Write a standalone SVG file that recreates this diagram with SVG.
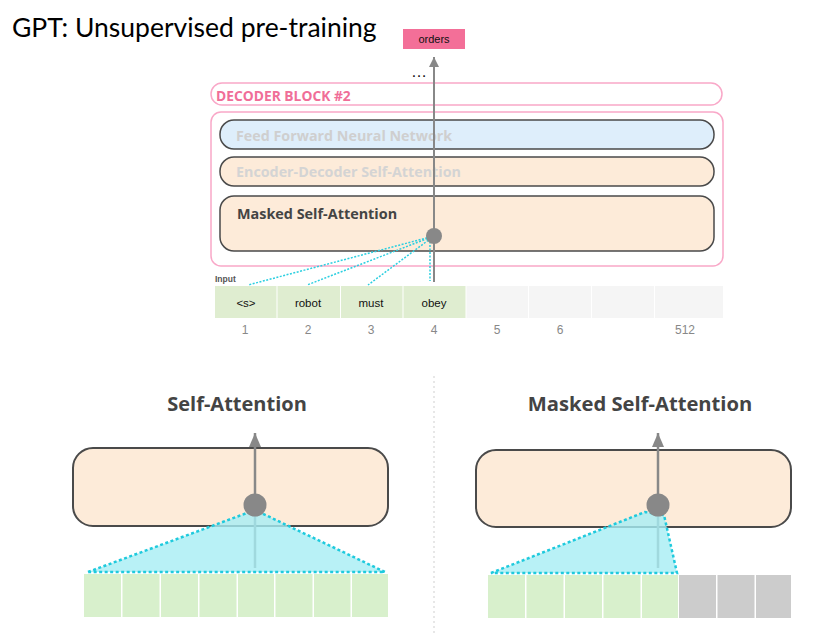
<svg xmlns="http://www.w3.org/2000/svg" width="837" height="634" viewBox="0 0 837 634">
<defs>
<style>
.lbl{font-family:"Open Sans","DejaVu Sans",sans-serif;font-weight:bold}
.sm{font-family:"Liberation Sans",Arial,sans-serif}
.layer{stroke:#4a4a4a;stroke-width:1.5}
.big{fill:#fdebd9;stroke:#4a4a4a;stroke-width:2}
.dot{stroke:#2ccfe0;fill:none;stroke-dasharray:2 1.5;stroke-width:1.5}
.tri{fill:#a6eef4;fill-opacity:0.8;stroke:#1fcadd;stroke-width:2.5;stroke-dasharray:3 2.5}
.g{fill:#dfedd0}
.e{fill:#f5f5f5}
.bg{fill:#d8f0cc}
.gr{fill:#cccccc}
.num{font-family:"Liberation Sans",Arial,sans-serif;font-size:12px;fill:#888;text-anchor:middle}
</style>
<marker id="ah" markerWidth="10" markerHeight="10" refX="10" refY="5" orient="auto" markerUnits="userSpaceOnUse" viewBox="0 0 10 10">
<path d="M0,0 L10,5 L0,10 Z" fill="#888"/>
</marker>
<marker id="ah2" markerWidth="14" markerHeight="12" refX="14" refY="6" orient="auto" markerUnits="userSpaceOnUse" viewBox="0 0 14 12">
<path d="M0,0 L14,6 L0,12 Z" fill="#888"/>
</marker>
</defs>
<rect width="837" height="634" fill="#fff"/>
<text x="12" y="37" font-family="Lato,'Open Sans',sans-serif" font-size="26.5" fill="#000">GPT: Unsupervised pre-training</text>

<g id="decoder-block-2">
<rect x="211" y="83" width="511" height="22" rx="11" fill="#fff" stroke="#f9a8c8" stroke-width="1.5"/>
<text class="lbl" x="216" y="101" font-size="13.8" fill="#f06e98">DECODER BLOCK #2</text>
</g>
<g id="decoder-block">
<rect x="211" y="112" width="512" height="154" rx="10" fill="#fff" stroke="#f9a8c8" stroke-width="1.5"/>
</g>
<g id="ffnn">
<rect class="layer" x="220" y="120" width="494" height="29" rx="14" fill="#deeefb"/>
<text class="lbl" x="236" y="141" font-size="14.3" fill="#cfcfcf">Feed Forward Neural Network</text>
</g>
<g id="encdec">
<rect class="layer" x="220" y="157" width="494" height="29" rx="14" fill="#fdebd9"/>
<text class="lbl" x="236" y="177" font-size="14.3" fill="#d4d4d4">Encoder-Decoder Self-Attention</text>
</g>
<g id="masked">
<rect class="layer" x="220" y="196" width="494" height="55" rx="14" fill="#fdebd9"/>
<text class="lbl" x="237" y="219" font-size="14.4" fill="#444">Masked Self-Attention</text>
</g>

<g id="orders">
<rect x="403" y="29" width="62" height="20" fill="#f36f98"/>
<text class="sm" x="434" y="43" font-size="11" text-anchor="middle" fill="#111">orders</text>
</g>
<text x="411" y="77" font-family="Liberation Sans,Arial,sans-serif" font-size="16" fill="#111">…</text>

<g id="input">
<text class="sm" x="215" y="282" font-size="8.5" font-weight="bold" fill="#555">Input</text>
<rect class="g" x="215" y="286" width="61.5" height="32"/>
<rect class="g" x="277.5" y="286" width="62.5" height="32"/>
<rect class="g" x="341" y="286" width="61.5" height="32"/>
<rect class="g" x="403.5" y="286" width="62" height="32"/>
<rect class="e" x="466.5" y="286" width="61.5" height="32"/>
<rect class="e" x="529" y="286" width="62" height="32"/>
<rect class="e" x="592" y="286" width="62" height="32"/>
<rect class="e" x="655" y="286" width="68" height="32"/>
<text class="sm" x="246" y="307" font-size="11.5" text-anchor="middle" fill="#111">&lt;s&gt;</text>
<text class="sm" x="308" y="307" font-size="11.5" text-anchor="middle" fill="#111">robot</text>
<text class="sm" x="371" y="307" font-size="11.5" text-anchor="middle" fill="#111">must</text>
<text class="sm" x="434" y="307" font-size="11.5" text-anchor="middle" fill="#111">obey</text>
<text class="num" x="245" y="334">1</text>
<text class="num" x="308" y="334">2</text>
<text class="num" x="371" y="334">3</text>
<text class="num" x="434" y="334">4</text>
<text class="num" x="497" y="334">5</text>
<text class="num" x="560" y="334">6</text>
<text class="num" x="685" y="334">512</text>
</g>

<g id="connectors">
<line x1="434" y1="282" x2="434" y2="57" stroke="#888" stroke-width="2" marker-end="url(#ah)"/>
<line class="dot" x1="434" y1="236" x2="248" y2="285"/>
<line class="dot" x1="434" y1="236" x2="307" y2="285"/>
<line class="dot" x1="434" y1="236" x2="368" y2="285"/>
<line class="dot" x1="430" y1="238" x2="430" y2="281"/>
<circle cx="434" cy="236" r="8" fill="#888"/>
<line x1="434" y1="376" x2="434" y2="634" stroke="#cfcfcf" stroke-width="1" stroke-dasharray="2 3"/>
</g>

<g id="self-attention">
<text class="lbl" x="237" y="411" font-size="20" text-anchor="middle" fill="#444">Self-Attention</text>
<rect class="big" x="73" y="448" width="315" height="78" rx="20"/>
<line x1="255" y1="568" x2="255" y2="433" stroke="#888" stroke-width="2.5" marker-end="url(#ah2)"/>
<rect class="bg" x="84" y="574" width="37" height="43"/>
<rect class="bg" x="122.5" y="574" width="37" height="43"/>
<rect class="bg" x="161" y="574" width="37" height="43"/>
<rect class="bg" x="199.5" y="574" width="37" height="43"/>
<rect class="bg" x="238" y="574" width="36" height="43"/>
<rect class="bg" x="275.5" y="574" width="37" height="43"/>
<rect class="bg" x="314" y="574" width="36.5" height="43"/>
<rect class="bg" x="352" y="574" width="36" height="43"/>
<polygon class="tri" points="88,572 255,510 385,572"/>
<circle cx="255" cy="505" r="11.5" fill="#888"/>
</g>

<g id="masked-self-attention">
<text class="lbl" x="640" y="411" font-size="20.2" text-anchor="middle" fill="#444">Masked Self-Attention</text>
<rect class="big" x="476" y="450" width="315" height="77" rx="20"/>
<line x1="658" y1="568" x2="658" y2="433" stroke="#888" stroke-width="2.5" marker-end="url(#ah2)"/>
<rect class="bg" x="488" y="575" width="37" height="43"/>
<rect class="bg" x="526.5" y="575" width="37" height="43"/>
<rect class="bg" x="565" y="575" width="37" height="43"/>
<rect class="bg" x="603.5" y="575" width="37" height="43"/>
<rect class="bg" x="642" y="575" width="36" height="43"/>
<rect class="gr" x="679" y="575" width="37" height="43"/>
<rect class="gr" x="717.5" y="575" width="37" height="43"/>
<rect class="gr" x="756" y="575" width="35" height="43"/>
<polygon class="tri" points="491,573 645,512 664,515 677,573"/>
<circle cx="658" cy="505" r="11.5" fill="#888"/>
</g>
</svg>
